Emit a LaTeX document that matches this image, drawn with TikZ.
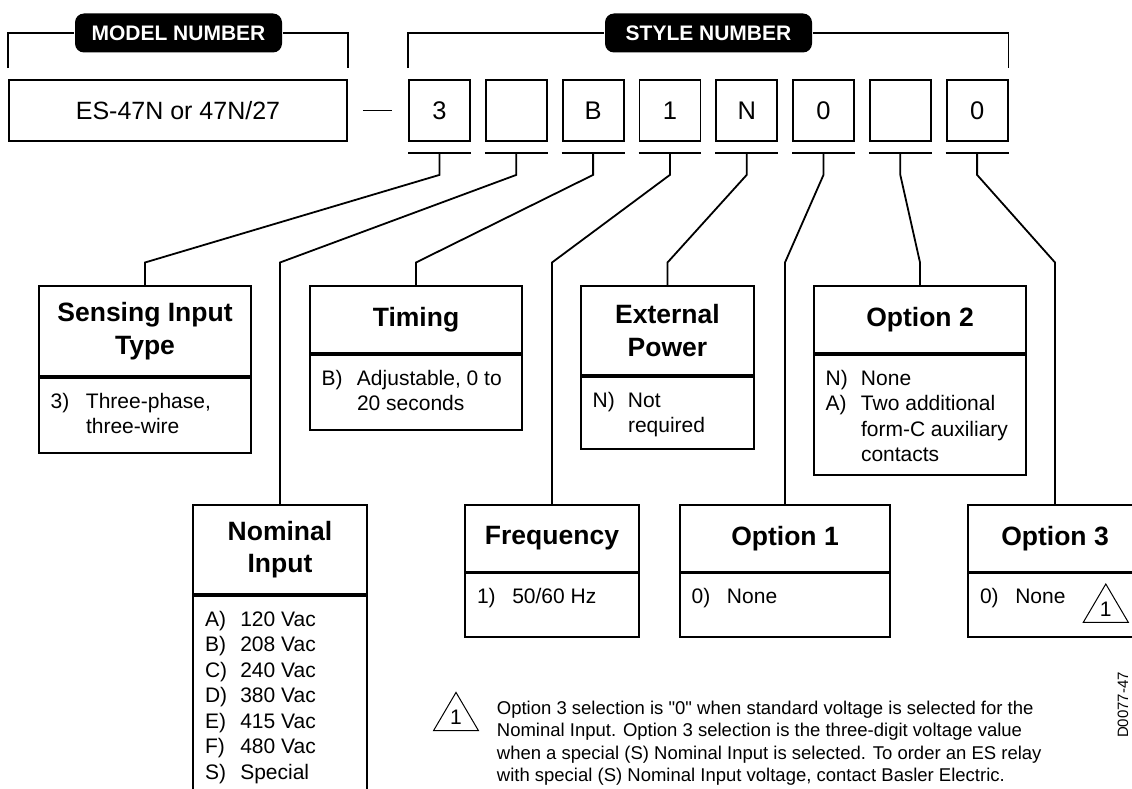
\documentclass[tikz,border=0pt]{standalone}
\usepackage{fontspec}
\setmainfont{Liberation Sans}
\usetikzlibrary{positioning}

% option list inside a lower box: height, width, rows
\newcommand{\optlist}[3]{\parbox[c][#1][t]{#2}{\vspace*{12.6pt}\hspace*{11.7pt}%
  \begin{tabular}[t]{@{}p{35.3pt}@{}l@{}}#3\end{tabular}}}
% footnote triangle, base centre given
\newcommand{\notemark}[2]{%
  \draw[line width=1pt] (#1) ++(-22.5,0) -- ++(22.5,-38.3) -- ++(22.5,38.3) -- cycle;
  \path (#1) ++(0,-13.5) node[marknum] (#2) {1};}

\begin{document}
\begin{tikzpicture}[x=1pt, y=-1pt, line width=1.8pt,
    every node/.style={inner sep=0pt},
    hdr/.style={fill=black, text=white, rounded corners=9pt, minimum width=207pt,
      minimum height=39pt, font=\fontsize{21pt}{25pt}\selectfont\bfseries},
    digit/.style={draw, minimum width=61pt, minimum height=61pt, font=\fontsize{25.5pt}{30pt}\selectfont},
    head/.style={draw, anchor=north, align=center, font=\fontsize{26.5pt}{32.5pt}\selectfont\bfseries},
    body/.style={draw, below=0pt of #1, font=\fontsize{21pt}{25.5pt}\selectfont},
    marknum/.style={font=\fontsize{21pt}{25pt}\selectfont},
    footnote/.style={anchor=north west, align=left, font=\fontsize{18.5pt}{22.5pt}\selectfont}]

  \useasboundingbox (0,0) rectangle (1132,789);
  \clip (0,0) rectangle (1132,789);

  % model and style number
  \node[draw, minimum width=338pt, minimum height=61pt, font=\fontsize{25pt}{30pt}\selectfont]
    (model) at (178,110.5) {ES-47N or 47N/27};
  \foreach \v [count=\i] in {3,{},B,1,N,0,{},0}
    \node[digit] (d\i) at (362.7+76.8*\i,110.5) {\v};
  \draw ([xshift=15pt]model.east) -- ([xshift=-16pt]d1.west);

  \node[hdr] (mhdr) at (178.5,33) {MODEL NUMBER};
  \node[hdr] (shdr) at (708.5,33) {STYLE NUMBER};
  \draw ([yshift=11pt]model.north west) |- (mhdr.west);
  \draw (mhdr.east) -| ([yshift=11pt]model.north east);
  \draw ([yshift=11pt]d1.north west) |- (shdr.west);
  \draw (shdr.east) -| ([yshift=11pt]d8.north east);

  % upper row
  \node[head, minimum width=212pt, minimum height=90pt] (sens) at (145,285) {Sensing Input\\Type};
  \node[body=sens] (sensb) {\optlist{75pt}{212pt}{3) & Three-phase,\\ & three-wire}};
  \node[head, minimum width=212pt, minimum height=67pt] (timing) at (416,285) {Timing};
  \node[body=timing] (timingb) {\optlist{75pt}{212pt}{B) & Adjustable, 0 to\\ & 20 seconds}};
  \node[head, minimum width=173pt, minimum height=89pt] (extpow) at (667.5,285) {External\\Power};
  \node[body=extpow] (extpowb) {\optlist{72pt}{173pt}{N) & Not\\ & required}};
  \node[head, minimum width=212pt, minimum height=67pt] (opt2) at (920,285) {Option 2};
  \node[body=opt2] (opt2b) {\optlist{120pt}{212pt}{N) & None\\ A) & Two additional\\ & form-C auxiliary\\ & contacts}};

  % lower row
  \node[head, minimum width=173.4pt, minimum height=89.3pt] (nom) at (280,504) {Nominal\\Input};
  \node[body=nom] (nomb) {\optlist{220pt}{173.4pt}{A) & 120 Vac\\ B) & 208 Vac\\ C) & 240 Vac\\
    D) & 380 Vac\\ E) & 415 Vac\\ F) & 480 Vac\\ S) & Special}};
  \node[head, minimum width=173.4pt, minimum height=66.7pt] (freq) at (552,504) {Frequency};
  \node[body=freq] (freqb) {\optlist{63.3pt}{173.4pt}{1) & 50/60 Hz}};
  \node[head, minimum width=210pt, minimum height=66.7pt] (opt1) at (785,504) {Option 1};
  \node[body=opt1] (opt1b) {\optlist{63.3pt}{210pt}{0) & None}};
  \node[head, minimum width=173.4pt, minimum height=66.7pt] (opt3) at (1055,504) {Option 3};
  \node[body=opt3] (opt3b) {\optlist{63.3pt}{173.4pt}{0) & None}};
  \coordinate (opt3mark) at (1105.8,622.3);
  \notemark{opt3mark}{opt3num}

  % connectors
  \coordinate (knee) at (0,262.5);
  \foreach \i/\t in {1/sens,2/nom,3/timing,4/freq,5/extpow,6/opt1,7/opt2,8/opt3}{
    \draw ([yshift=-11.3pt]d\i.south west) -- ([yshift=-11.3pt]d\i.south east);
    \draw ([yshift=-11.3pt]d\i.south) -- ++(0,21.7) -- (\t.north |- knee) -- (\t.north);
  }

  % footnote
  \coordinate (fnmark) at (456,730.7);
  \notemark{fnmark}{fnnum}
  \node[footnote] (fn) at (496,697.5) {\strut Option 3 selection is \textquotedbl0\textquotedbl{} when standard voltage is selected for the\\
    Nominal Input. Option 3 selection is the three-digit voltage value\\
    when a special (S) Nominal Input is selected. To order an ES relay\\
    with special (S) Nominal Input voltage, contact Basler Electric.};

  \node[rotate=90, font=\fontsize{15pt}{18pt}\selectfont] (dwg) at (1123,705) {D0077-47};
\end{tikzpicture}
\end{document}
